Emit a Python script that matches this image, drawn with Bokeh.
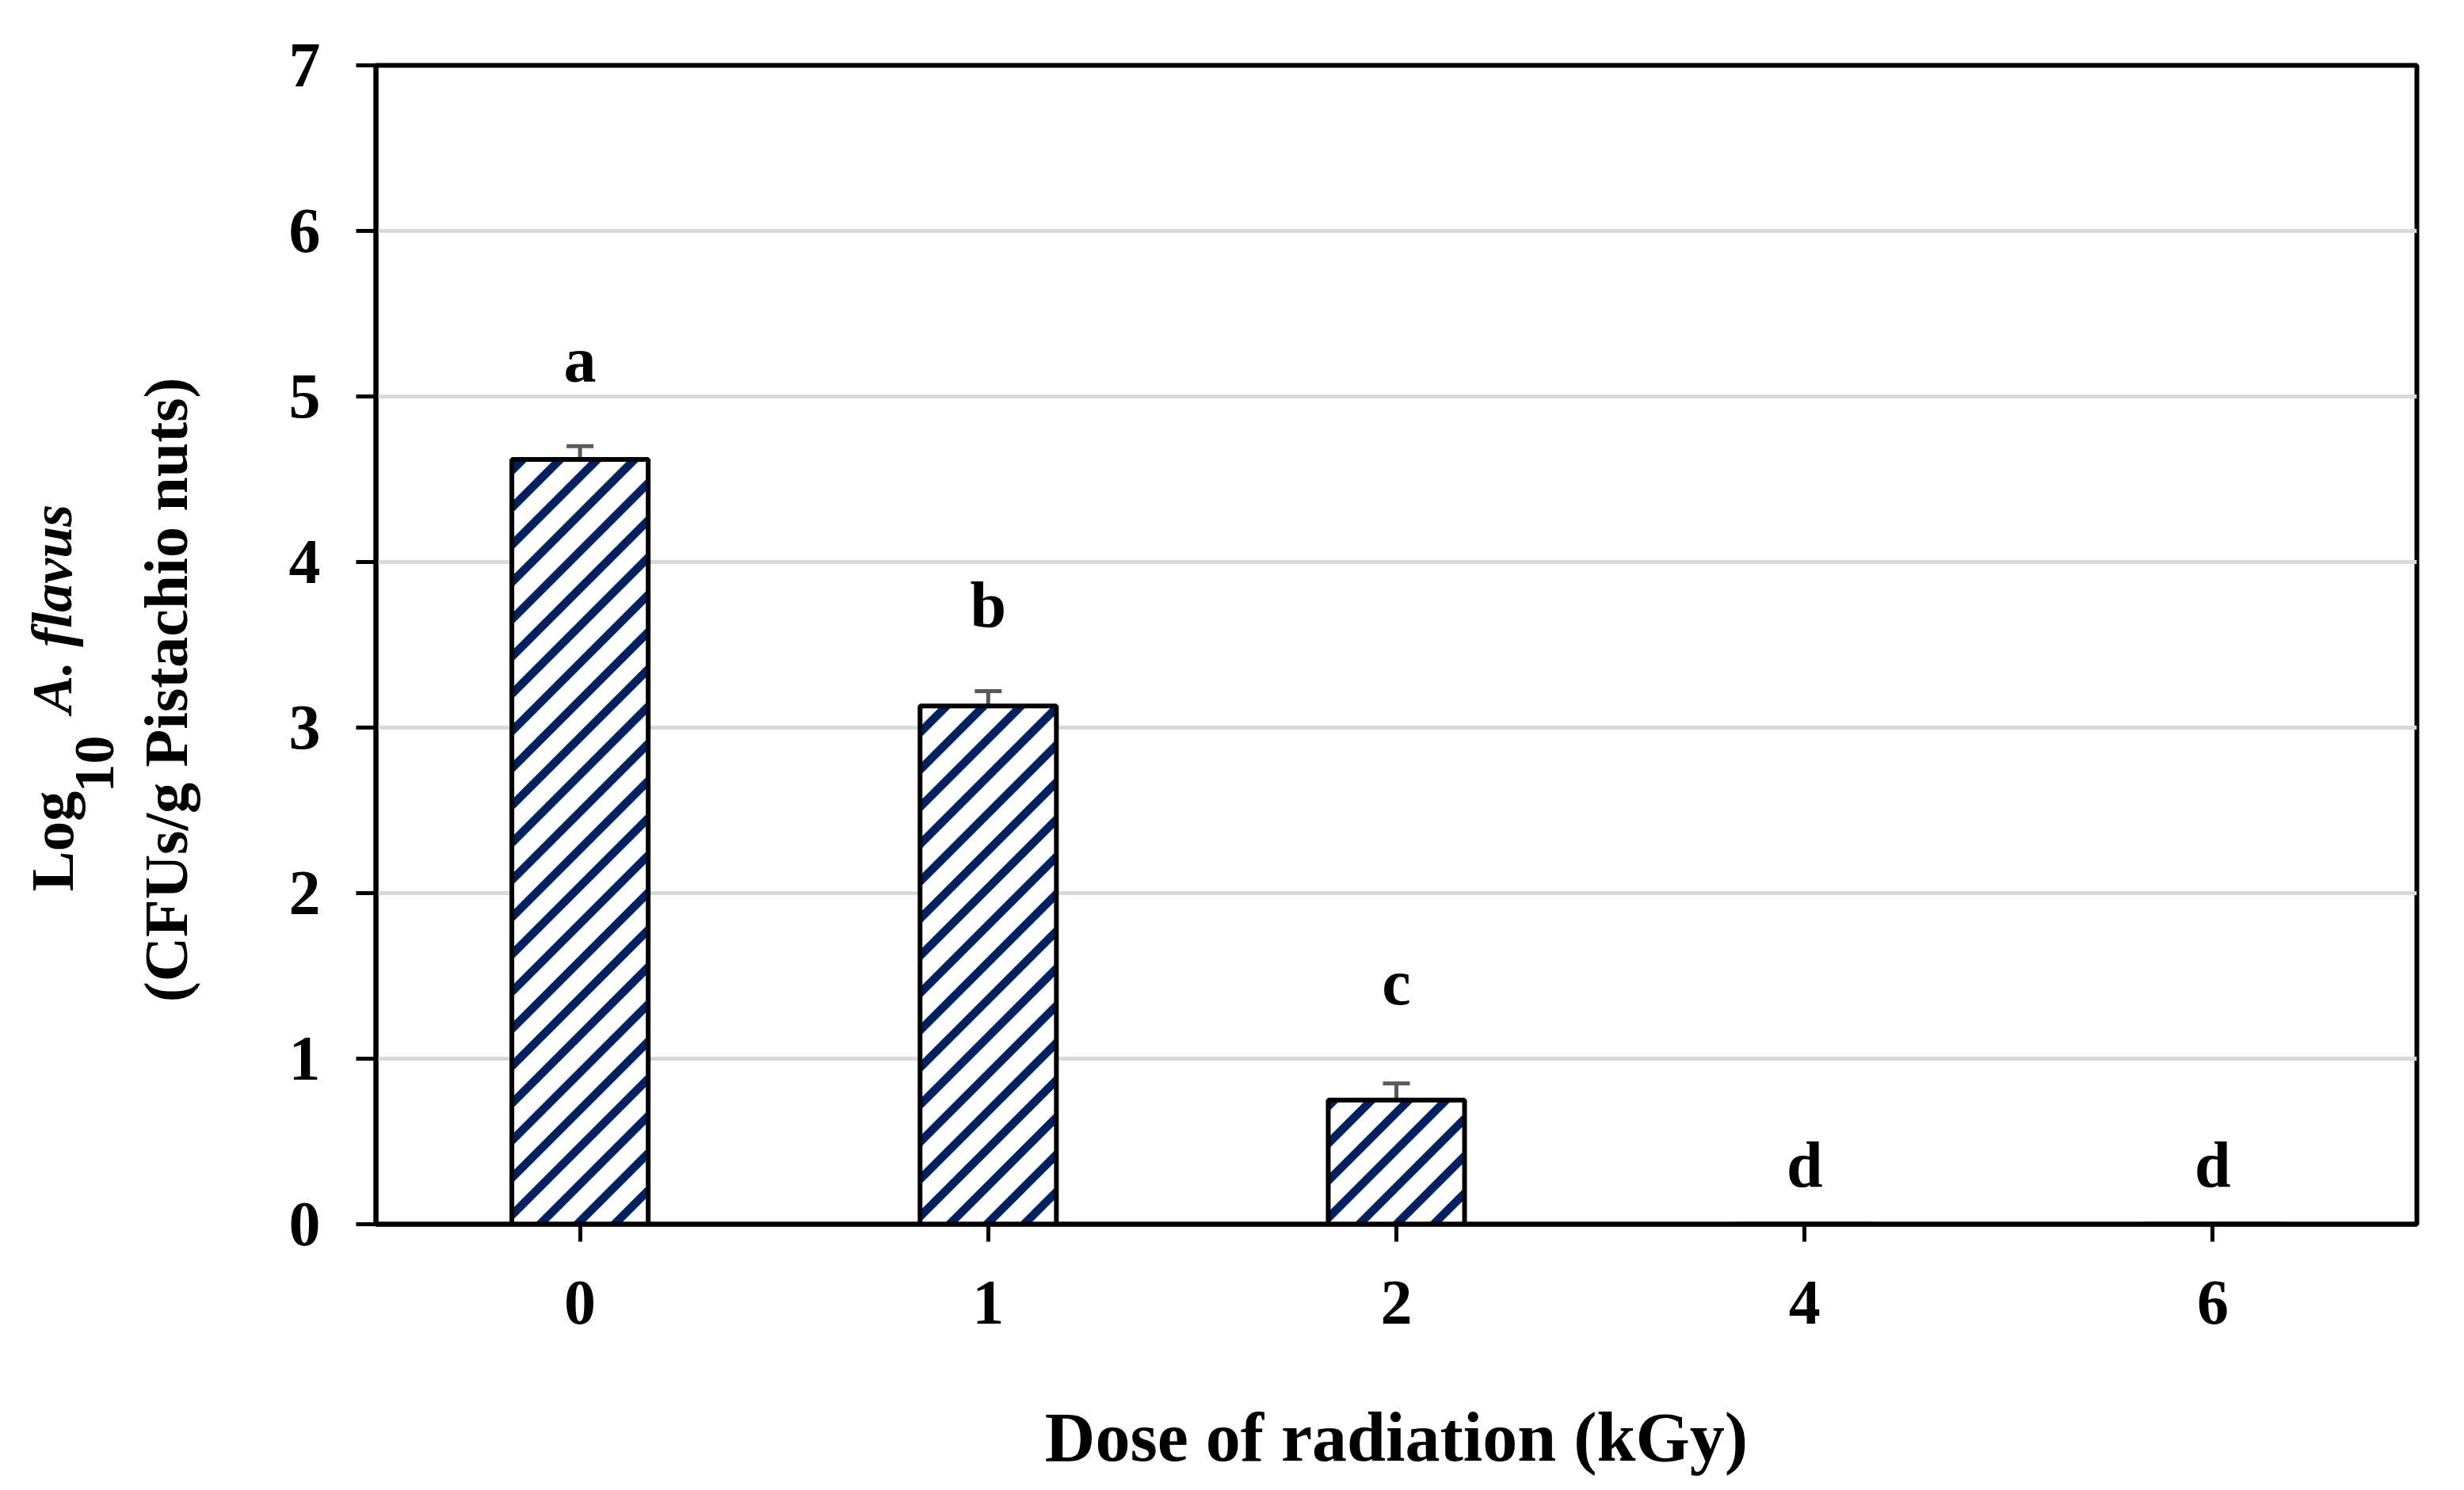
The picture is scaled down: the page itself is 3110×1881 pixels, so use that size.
import math, zlib, struct, base64
from bokeh.plotting import figure
from bokeh.layouts import row
from bokeh.models import ColumnDataSource, Whisker, FactorRange, Range1d, FixedTicker, TeeHead, ImageURLTexture
from bokeh.core.properties import value
from bokeh.embed import file_html
from bokeh.resources import INLINE

# ---- data ----
doses = ["0", "1", "2", "4", "6"]
log_counts = [4.62, 3.13, 0.75, 0.0, 0.0]
std_err = [0.08, 0.09, 0.10, 0.0, 0.0]
sig_letters = ["a", "b", "c", "d", "d"]
letter_y = [5.22, 3.74, 1.46, 0.36, 0.36]
y_ticks = [0, 1, 2, 3, 4, 5, 6, 7]

FONT = "Liberation Serif"
W, H = 3094, 1865
LW = 300  # width of the strip holding the y-axis title
TOP, BOTTOM = 82, 317


# ---- 45-degree navy stripe tile as a PNG data URL ----
def stripe_png(s=47, w=10.5, rgb=(0, 32, 96)):
    rows = []
    for y in range(s):
        r = bytearray()
        for x in range(s):
            v = (x + y + 1.0) % s
            d = min(v, s - v) / math.sqrt(2)
            cov = max(0.0, min(1.0, w / 2 - d + 0.5))
            r += bytes([int(round(255 + (c - 255) * cov)) for c in rgb]) + b"\xff"
        rows.append(bytes(r))
    raw = b"".join(b"\x00" + rr for rr in rows)

    def chunk(tag, data):
        c = struct.pack(">I", len(data)) + tag + data
        return c + struct.pack(">I", zlib.crc32(tag + data) & 0xffffffff)
    png = (b"\x89PNG\r\n\x1a\n"
           + chunk(b"IHDR", struct.pack(">IIBBBBB", s, s, 8, 6, 0, 0, 0))
           + chunk(b"IDAT", zlib.compress(raw, 9))
           + chunk(b"IEND", b""))
    return "data:image/png;base64," + base64.b64encode(png).decode("ascii")


stripes = ImageURLTexture(url=stripe_png())

p = figure(width=W - LW, height=H,
           x_range=FactorRange(factors=doses, range_padding=0),
           y_range=Range1d(0, 7),
           output_backend="svg", toolbar_location=None,
           min_border_left=474 - LW, min_border_right=44,
           min_border_top=TOP, min_border_bottom=BOTTOM)

src = ColumnDataSource(dict(x=doses, top=log_counts))
p.vbar(x="x", top="top", width=0.334, source=src,
       fill_color="white", line_color="black", line_width=6,
       hatch_pattern=value("stripes"), hatch_extra={"stripes": stripes},
       hatch_color="#002060", hatch_weight=9, hatch_scale=47)

ex = [d for d, e in zip(doses, std_err) if e > 0]
eu = [v + e for v, e in zip(log_counts, std_err) if e > 0]
el = [v - e for v, e in zip(log_counts, std_err) if e > 0]
esrc = ColumnDataSource(dict(x=ex, upper=eu, lower=el))
ecol = "#595959"
p.add_layout(Whisker(base="x", upper="upper", lower="lower", source=esrc,
                     line_color=ecol, line_width=5,
                     upper_head=TeeHead(size=34, line_color=ecol, line_width=5),
                     lower_head=TeeHead(size=34, line_color=ecol, line_width=5)))

p.text(x=doses, y=letter_y, text=sig_letters, text_font=value(FONT),
       text_font_size=value("82px"), text_font_style="bold",
       text_align="center", text_baseline="alphabetic", text_color="black")

# axes
for ax in (p.xaxis, p.yaxis):
    ax.axis_line_width = 6
    ax.axis_line_color = "black"
    ax.major_tick_line_width = 5
    ax.major_tick_line_color = "black"
    ax.major_tick_in = 0
    ax.minor_tick_line_color = None
    ax.major_label_text_font = FONT
    ax.major_label_text_font_style = "bold"
    ax.major_label_text_font_size = "80px"
    ax.major_label_text_color = "black"

p.xaxis.major_tick_out = 22
p.xaxis.major_label_standoff = 50
p.xaxis.axis_label = "Dose of radiation (kGy)"
p.xaxis.axis_label_text_font = FONT
p.xaxis.axis_label_text_font_style = "bold"
p.xaxis.axis_label_text_font_size = "88px"
p.xaxis.axis_label_text_color = "black"
p.xaxis.axis_label_standoff = 92

p.yaxis.ticker = FixedTicker(ticks=y_ticks)
p.yaxis.major_tick_out = 25
p.yaxis.major_label_standoff = 45

p.xgrid.visible = False
p.ygrid.grid_line_color = "#d9d9d9"
p.ygrid.grid_line_width = 5
p.outline_line_color = "black"
p.outline_line_width = 6
p.outline_line_alpha = 1.0

# ---- y-axis title strip (rotated text); its frame is aligned with the main frame ----
t = figure(width=LW, height=H, x_range=Range1d(0, LW),
           y_range=Range1d(H - (H - BOTTOM), H - TOP),
           x_axis_location=None, y_axis_location=None,
           output_backend="svg", toolbar_location=None,
           min_border_left=0, min_border_right=0,
           min_border_top=TOP, min_border_bottom=BOTTOM)
t.grid.visible = False
t.outline_line_color = None

def sx(x):
    return x - 8
def sy(y):
    return H - (y - 8)

rot = math.pi / 2
t.text(x=[sx(73)], y=[sy(1135)], text=["Log"], angle=rot,
       text_font=value(FONT), text_font_size=value("76px"), text_font_style="bold",
       text_align="left", text_baseline="alphabetic", text_color="black")
t.text(x=[sx(127)], y=[sy(1010)], text=["10"], angle=rot,
       text_font=value(FONT), text_font_size=value("72px"), text_font_style="bold",
       text_align="left", text_baseline="alphabetic", text_color="black")
t.text(x=[sx(73)], y=[sy(910)], text=["A. flavus"], angle=rot,
       text_font=value(FONT), text_font_size=value("72px"), text_font_style="bold italic",
       text_align="left", text_baseline="alphabetic", text_color="black")
t.text(x=[sx(217)], y=[sy(880)], text=["(CFUs/g Pistachio nuts)"], angle=rot,
       text_font=value(FONT), text_font_size=value("78px"), text_font_style="bold",
       text_align="center", text_baseline="alphabetic", text_color="black")

layout = row(t, p)
open("out.html", "w").write(file_html(layout, INLINE))
